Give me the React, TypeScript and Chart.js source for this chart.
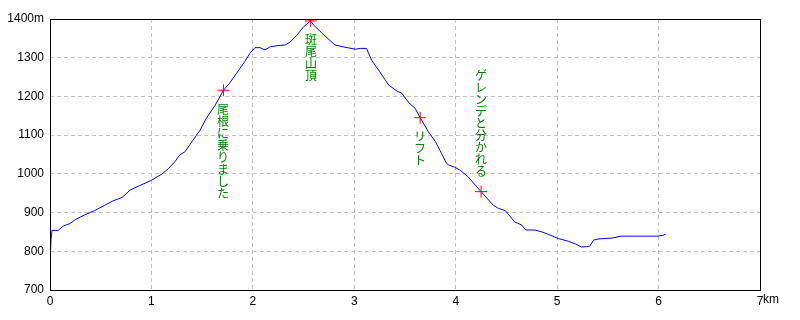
import React, { useEffect, useRef } from "react";
import { Chart, registerables } from "chart.js";

Chart.register(...registerables);

const distanceKm = [0, 0.005, 0.01, 0.02, 0.08, 0.13, 0.2, 0.25, 0.35, 0.44, 0.54, 0.62, 0.71, 0.79, 0.87, 0.99, 1.1, 1.17, 1.23, 1.28, 1.33, 1.41, 1.48, 1.54, 1.63, 1.71, 1.77, 1.84, 1.92, 1.97, 2.02, 2.07, 2.12, 2.17, 2.24, 2.32, 2.37, 2.43, 2.5, 2.57, 2.6, 2.7, 2.81, 2.89, 3.01, 3.06, 3.12, 3.17, 3.25, 3.34, 3.42, 3.47, 3.53, 3.6, 3.65, 3.73, 3.8, 3.86, 3.91, 3.93, 3.99, 4.04, 4.12, 4.25, 4.37, 4.42, 4.49, 4.58, 4.65, 4.69, 4.78, 4.85, 4.93, 5.01, 5.11, 5.18, 5.24, 5.29, 5.32, 5.36, 5.41, 5.54, 5.63, 5.98, 6.04, 6.07];
const elevationM = [760, 800, 830, 854, 854, 865, 872, 882, 895, 905, 919, 930, 939, 958, 968, 982, 999, 1014, 1031, 1049, 1057, 1087, 1113, 1143, 1178, 1216, 1234, 1260, 1290, 1311, 1326, 1326, 1320, 1328, 1331, 1333, 1341, 1357, 1380, 1395, 1384, 1359, 1333, 1328, 1322, 1324, 1324, 1294, 1264, 1229, 1214, 1208, 1186, 1169, 1145, 1109, 1083, 1053, 1027, 1023, 1017, 1010, 993, 954, 919, 911, 905, 876, 868, 855, 855, 850, 842, 833, 826, 819, 811, 812, 813, 829, 832, 834, 839, 839, 841, 844];

const markerKm = [1.71, 2.57, 3.65, 4.25];
const markerM = [1216, 1395, 1145, 954];
const markerLabels = ["尾根に乗りました", "斑尾山頂", "リフト", "ゲレンデと分かれる"];
const labelAbove = [false, false, false, true];

const xTicks = [0, 1, 2, 3, 4, 5, 6, 7];
const yTicks = [700, 800, 900, 1000, 1100, 1200, 1300, 1400];

const TICK_FONT = { family: "'Liberation Sans Narrow', 'Liberation Sans', sans-serif", size: 12 };

const framePlugin = {
  id: "frame",
  afterDatasetsDraw(chart: any) {
    const ctx = chart.ctx;
    const xs = chart.scales.x;
    const ys = chart.scales.y;
    ctx.save();
    // vertical labels
    ctx.fillStyle = "#008000";
    ctx.font = "12px 'Noto Sans CJK JP', sans-serif";
    ctx.textAlign = "center";
    ctx.textBaseline = "top";
    const lh = 12;
    markerLabels.forEach((txt, i) => {
      const px = Math.round(xs.getPixelForValue(markerKm[i]));
      const py = ys.getPixelForValue(markerM[i]);
      const chars = Array.from(txt);
      let y0 = labelAbove[i] ? py - 14 - chars.length * lh : py + 13;
      chars.forEach((c, k) => {
        ctx.fillText(c, px, y0 + k * lh);
      });
    });
    ctx.restore();
  },
  afterDraw(chart: any) {
    const ctx = chart.ctx;
    const a = chart.chartArea;
    ctx.save();
    ctx.strokeStyle = "#000000";
    ctx.lineWidth = 1;
    ctx.setLineDash([]);
    ctx.strokeRect(Math.round(a.left) + 0.5, Math.round(a.top) + 0.5, Math.round(a.right - a.left), Math.round(a.bottom - a.top));
    // "km" unit after last x tick
    const xs = chart.scales.x;
    ctx.fillStyle = "#000000";
    ctx.font = `${TICK_FONT.size}px ${TICK_FONT.family}`;
    ctx.textAlign = "left";
    ctx.textBaseline = "top";
    ctx.fillText("km", xs.getPixelForValue(7) + 3, a.bottom + 4);
    ctx.restore();
  },
};

export default function App() {
  const ref = useRef<HTMLCanvasElement>(null);
  useEffect(() => {
    document.body.style.margin = "0";
    const lineData = distanceKm.map((d, i) => ({ x: d, y: elevationM[i] }));
    const markData = markerKm.map((d, i) => ({ x: d, y: markerM[i] }));
    const chart = new Chart(ref.current as HTMLCanvasElement, {
      type: "line",
      data: {
        datasets: [
          {
            data: markData,
            showLine: false,
            pointStyle: "cross",
            pointRadius: 6,
            pointBorderWidth: 1,
            pointBorderColor: "#ff0000",
            borderColor: "#ff0000",
          },
          {
            data: lineData,
            borderColor: "#0000ff",
            borderWidth: 1,
            pointRadius: 0,
            tension: 0,
            fill: false,
          },
        ],
      },
      options: {
        animation: false,
        responsive: false,
        devicePixelRatio: 1,
        layout: { padding: { left: 0, right: 40, top: 19, bottom: 0 } },
        plugins: { legend: { display: false }, tooltip: { enabled: false } },
        scales: {
          x: {
            type: "linear",
            min: 0,
            max: 7,
            afterBuildTicks: (axis: any) => {
              axis.ticks = xTicks.map((v) => ({ value: v }));
            },
            afterFit: (axis: any) => {
              axis.height = 30;
            },
            grid: { color: "#c0c0c0", drawTicks: false, lineWidth: 1 },
            border: { display: false, dash: [4, 3] },
            ticks: {
              color: "#000000",
              font: TICK_FONT,
              padding: 4,
              maxRotation: 0,
              autoSkip: false,
              callback: (v: any) => String(v),
            },
          },
          y: {
            type: "linear",
            min: 700,
            max: 1400,
            afterBuildTicks: (axis: any) => {
              axis.ticks = yTicks.map((v) => ({ value: v }));
            },
            afterFit: (axis: any) => {
              axis.width = 50;
            },
            grid: { color: "#c0c0c0", drawTicks: false, lineWidth: 1 },
            border: { display: false, dash: [4, 3] },
            ticks: {
              color: "#000000",
              font: TICK_FONT,
              padding: 6,
              autoSkip: false,
              callback: (v: any) => (v === 1400 ? "1400m" : String(v)),
            },
          },
        },
      },
      plugins: [framePlugin],
    });
    return () => chart.destroy();
  }, []);
  return (
    <div style={{ width: 800, height: 320, background: "#ffffff" }}>
      <canvas ref={ref} width={800} height={320} />
    </div>
  );
}
